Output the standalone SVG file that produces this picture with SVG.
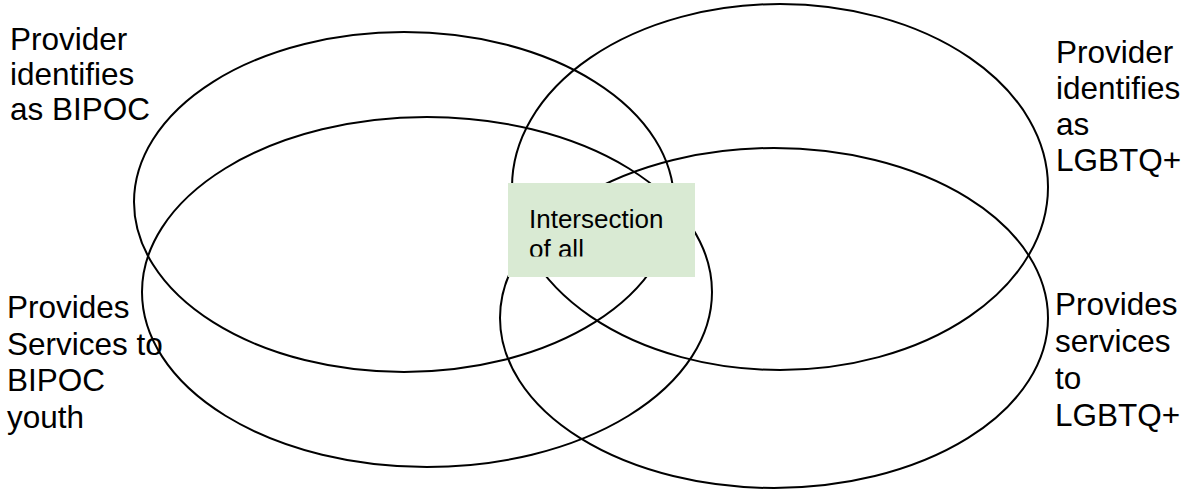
<svg xmlns="http://www.w3.org/2000/svg" width="1188" height="497" viewBox="0 0 1188 497">
<style>
.e{fill:none;stroke:#000;stroke-width:2}
.t{font-family:"Liberation Sans",Arial,sans-serif;font-size:31.5px;fill:#000}
.s{font-family:"Liberation Sans",Arial,sans-serif;font-size:26px;fill:#000}
</style>
<defs>
<clipPath id="clipI"><rect x="508" y="183" width="187" height="73.5"/></clipPath>
</defs>
<rect width="1188" height="497" fill="#fff"/>
<g id="connectors"></g>
<g id="ellipse-bipoc-provider"><ellipse class="e" cx="404" cy="202" rx="270" ry="170"/></g>
<g id="ellipse-lgbtq-provider"><ellipse class="e" cx="780" cy="187" rx="268" ry="183"/></g>
<g id="ellipse-bipoc-services"><ellipse class="e" cx="427" cy="292" rx="285" ry="175"/></g>
<g id="ellipse-lgbtq-services"><ellipse class="e" cx="774" cy="318" rx="274" ry="170"/></g>
<g id="label-bipoc-provider">
<text class="t" x="10" y="50">Provider</text>
<text class="t" x="10" y="85">identifies</text>
<text class="t" x="10" y="120">as BIPOC</text>
</g>
<g id="label-lgbtq-provider">
<text class="t" x="1056" y="63">Provider</text>
<text class="t" x="1056" y="99">identifies</text>
<text class="t" x="1056" y="135">as</text>
<text class="t" x="1056" y="171">LGBTQ+</text>
</g>
<g id="label-bipoc-services">
<text class="t" x="7" y="318">Provides</text>
<text class="t" x="7" y="355">Services to</text>
<text class="t" x="7" y="391">BIPOC</text>
<text class="t" x="7" y="428">youth</text>
</g>
<g id="label-lgbtq-services">
<text class="t" x="1055" y="315">Provides</text>
<text class="t" x="1055" y="352">services</text>
<text class="t" x="1055" y="389">to</text>
<text class="t" x="1055" y="426">LGBTQ+</text>
</g>
<g id="intersection">
<rect x="508" y="183" width="187" height="94" fill="#d9ead3"/>
<g clip-path="url(#clipI)">
<text class="s" x="529" y="228">Intersection</text>
<text class="s" x="529" y="258">of all</text>
</g>
</g>
</svg>
